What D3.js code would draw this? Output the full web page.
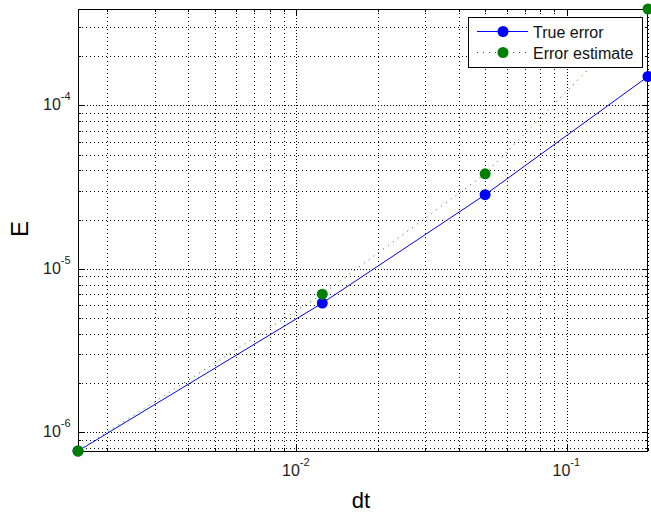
<!DOCTYPE html>
<html><head><meta charset="utf-8">
<script src="https://cdn.jsdelivr.net/npm/d3@7"></script>
<style>body{margin:0;background:#fff}svg{display:block}</style>
</head><body>
<script>
const dt = [0.0015625, 0.0125, 0.05, 0.2];
const trueError = [7.69e-7, 6.17e-6, 2.84e-5, 1.50e-4];
const errorEstimate = [7.69e-7, 7.0e-6, 3.81e-5, 3.88e-4];
const seriesNames = ["True error", "Error estimate"];
const xMajorTicks = [0.01, 0.1];
const yMajorTicks = [1e-6, 1e-5, 1e-4];
const xTickExp = ["-2", "-1"];
const yTickExp = ["-6", "-5", "-4"];

const W = 651, H = 514;
const m = {l: 78, r: 3, t: 9, b: 63};
const svg = d3.select("body").append("svg").attr("width", W).attr("height", H);
const x = d3.scaleLog().domain([0.0015625, 0.2]).range([m.l, W - m.r]);
const y = d3.scaleLog().domain([7.69e-7, 3.88e-4]).range([H - m.b, m.t]);
const [x0, x1] = x.range(), [y0, y1] = [y.range()[1], y.range()[0]];

function minorTicks(scale) {
  const [a, b] = scale.domain();
  const out = [];
  for (let e = Math.floor(Math.log10(a)); e <= Math.ceil(Math.log10(b)); e++) {
    for (let k = 1; k <= 9; k++) {
      const v = k * Math.pow(10, e);
      if (v >= a * 0.9999 && v <= b * 1.0001) out.push({v, major: k === 1});
    }
  }
  return out;
}
const xt = minorTicks(x), yt = minorTicks(y);

const g = svg.append("g");
// grid
g.selectAll(".gx").data(xt).enter().append("line")
  .attr("x1", d => Math.round(x(d.v)) + 0.5).attr("x2", d => Math.round(x(d.v)) + 0.5)
  .attr("y1", y0).attr("y2", y1)
  .attr("stroke", "#000").attr("stroke-width", 1).attr("stroke-dasharray", d => d.major ? "1,2" : "1,3");
g.selectAll(".gy").data(yt).enter().append("line")
  .attr("y1", d => Math.round(y(d.v)) + 0.5).attr("y2", d => Math.round(y(d.v)) + 0.5)
  .attr("x1", x0).attr("x2", x1)
  .attr("stroke", "#000").attr("stroke-width", 1).attr("stroke-dasharray", d => d.major ? "1,2" : "1,3");

// ticks inside on all sides
const tl = d => d.major ? 6 : 3;
xt.forEach(d => {
  const px = Math.round(x(d.v)) + 0.5;
  g.append("line").attr("x1", px).attr("x2", px).attr("y1", y1).attr("y2", y1 - tl(d)).attr("stroke", "#000");
  g.append("line").attr("x1", px).attr("x2", px).attr("y1", y0).attr("y2", y0 + tl(d)).attr("stroke", "#000");
});
yt.forEach(d => {
  const py = Math.round(y(d.v)) + 0.5;
  g.append("line").attr("y1", py).attr("y2", py).attr("x1", x0).attr("x2", x0 + tl(d)).attr("stroke", "#000");
  g.append("line").attr("y1", py).attr("y2", py).attr("x1", x1).attr("x2", x1 - tl(d)).attr("stroke", "#000");
});

// frame
g.append("rect").attr("x", x0 + 0.5).attr("y", y0 + 0.5).attr("width", x1 - x0 - 1).attr("height", y1 - y0)
  .attr("fill", "none").attr("stroke", "#000").attr("stroke-width", 1);

// tick labels
const font = "'Liberation Sans', Arial, Helvetica, sans-serif";
xMajorTicks.forEach((v, i) => {
  const t = svg.append("text").attr("x", x(v) - 14).attr("y", y1 + 25)
    .attr("font-family", font).attr("font-size", 16).attr("fill", "#222");
  t.append("tspan").text("10");
  t.append("tspan").attr("dy", -10).attr("font-size", 11).text(xTickExp[i]);
});
yMajorTicks.forEach((v, i) => {
  const t = svg.append("text").attr("x", 43).attr("y", y(v) + 5)
    .attr("font-family", font).attr("font-size", 16).attr("fill", "#222");
  t.append("tspan").text("10");
  t.append("tspan").attr("dy", -10).attr("font-size", 11).text(yTickExp[i]);
});

// axis labels
svg.append("text").attr("x", 361).attr("y", 508).attr("text-anchor", "middle")
  .attr("font-family", font).attr("font-size", 22).text("dt");
svg.append("text").attr("transform", `translate(28,229) rotate(-90)`).attr("text-anchor", "middle")
  .attr("font-family", font).attr("font-size", 24).text("E");

// series
const line = d3.line().x(d => x(d[0])).y(d => y(d[1]));
const s1 = dt.map((d, i) => [d, trueError[i]]);
const s2 = dt.map((d, i) => [d, errorEstimate[i]]);
svg.append("path").attr("d", line(s1)).attr("fill", "none").attr("stroke", "#0000ff").attr("stroke-width", 1);
svg.selectAll(".m1").data(s1).enter().append("circle")
  .attr("cx", d => x(d[0])).attr("cy", d => y(d[1])).attr("r", 5.5).attr("fill", "#0000ff");
svg.append("path").attr("d", line(s2)).attr("fill", "none").attr("stroke", "#008000").attr("stroke-width", 1)
  .attr("stroke-dasharray", "1,5");
svg.selectAll(".m2").data(s2).enter().append("circle")
  .attr("cx", d => x(d[0])).attr("cy", d => y(d[1])).attr("r", 5.5).attr("fill", "#008000");

// legend
const lg = svg.append("g");
lg.append("rect").attr("x", 468.5).attr("y", 17.5).attr("width", 174).attr("height", 50)
  .attr("fill", "#fff").attr("stroke", "#000");
const colors = ["#0000ff", "#008000"];
seriesNames.forEach((n, i) => {
  const yy = 31.5 + i * 21;
  lg.append("line").attr("x1", 477).attr("x2", 528).attr("y1", yy).attr("y2", yy)
    .attr("stroke", colors[i]).attr("stroke-dasharray", i ? "1,5" : null);
  lg.append("circle").attr("cx", 503).attr("cy", yy).attr("r", 5.5).attr("fill", colors[i]);
  lg.append("text").attr("x", 533).attr("y", yy + 6).attr("font-family", font).attr("font-size", 16)
    .attr("fill", "#111").text(n);
});
</script>
</body></html>
